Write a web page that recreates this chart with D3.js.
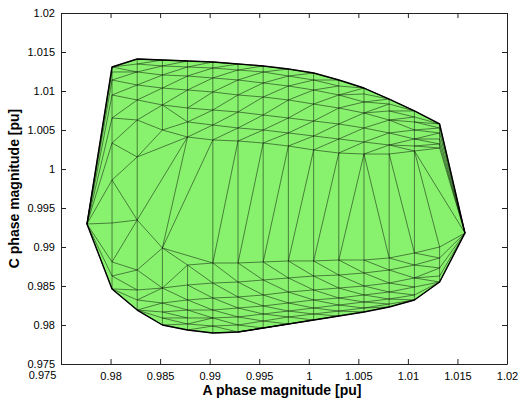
<!DOCTYPE html>
<html lang="en">
<head>
  <meta charset="UTF-8">
  <title>A vs C phase magnitude</title>
  <script src="https://d3js.org/d3.v7.min.js"></script>
  <style>
    body { margin: 0; background: #fff; }
    text { font-family: "Liberation Sans", Arial, sans-serif; }
  </style>
</head>
<body>
<svg></svg>
<script>
  // A phase magnitude of each mesh column [pu]
  const columnA = [0.97762, 0.98015, 0.98269, 0.98523, 0.98777, 0.99032, 0.99286, 0.99540,
                   0.99794, 1.00049, 1.00303, 1.00557, 1.00811, 1.01066, 1.01320, 1.01576]

  // C phase magnitudes of the mesh vertices in each column [pu]
  const columnC = [
    [0.99295],
    [1.01308, 1.01244, 1.01141, 1.00949, 1.00654, 1.00333, 0.99859, 0.99308, 0.98808, 0.98628, 0.98462],
    [1.01410, 1.01346, 1.01244, 1.01077, 1.00885, 1.00628, 1.00154, 0.99346, 0.98705, 0.98449, 0.98321, 0.98192],
    [1.01397, 1.01321, 1.01205, 1.01038, 1.00821, 1.00500, 0.98987, 0.98474, 0.98282, 0.98167, 0.98090, 0.98000],
    [1.01385, 1.01308, 1.01192, 1.01013, 1.00782, 1.00603, 1.00410, 0.98769, 0.98513, 0.98321, 0.98192, 0.98090, 0.98013, 0.97936],
    [1.01372, 1.01295, 1.01167, 1.00987, 1.00756, 1.00564, 1.00372, 0.98795, 0.98538, 0.98346, 0.98192, 0.98090, 0.97987, 0.97897],
    [1.01346, 1.01269, 1.01141, 1.00949, 1.00731, 1.00526, 1.00359, 0.98795, 0.98551, 0.98359, 0.98218, 0.98103, 0.98000, 0.97910],
    [1.01321, 1.01244, 1.01103, 1.00923, 1.00692, 1.00500, 1.00333, 0.98808, 0.98577, 0.98385, 0.98244, 0.98141, 0.98051, 0.97962],
    [1.01282, 1.01192, 1.01064, 1.00885, 1.00654, 1.00462, 1.00295, 0.98821, 0.98603, 0.98423, 0.98282, 0.98179, 0.98103, 0.98013],
    [1.01231, 1.01141, 1.01013, 1.00833, 1.00615, 1.00423, 1.00244, 0.98821, 0.98628, 0.98449, 0.98321, 0.98218, 0.98141, 0.98064],
    [1.01141, 1.01064, 1.00949, 1.00782, 1.00577, 1.00385, 1.00205, 0.98833, 0.98641, 0.98474, 0.98346, 0.98256, 0.98179, 0.98115],
    [1.01038, 1.00962, 1.00859, 1.00718, 1.00526, 1.00346, 1.00192, 0.98833, 0.98667, 0.98500, 0.98385, 0.98295, 0.98218, 0.98167],
    [1.00897, 1.00833, 1.00744, 1.00628, 1.00462, 1.00308, 1.00192, 0.98859, 0.98705, 0.98538, 0.98423, 0.98333, 0.98269, 0.98231],
    [1.00744, 1.00667, 1.00603, 1.00500, 1.00385, 1.00295, 1.00231, 0.98923, 0.98769, 0.98603, 0.98487, 0.98385, 0.98321],
    [1.00577, 1.00526, 1.00462, 1.00385, 1.00321, 1.00269, 0.99000, 0.98859, 0.98731, 0.98628, 0.98551],
    [0.99179]
  ]

  const xTicks = [0.975, 0.98, 0.985, 0.99, 0.995, 1, 1.005, 1.01, 1.015, 1.02]
  const yTicks = [0.975, 0.98, 0.985, 0.99, 0.995, 1, 1.005, 1.01, 1.015, 1.02]

  const margin = {top: 13, right: 15, bottom: 39, left: 61}
  const width = 522, height = 403

  const x = d3.scaleLinear()
      .domain([0.975, 1.02])
      .range([margin.left, width - margin.right])

  const y = d3.scaleLinear()
      .domain([0.975, 1.02])
      .range([height - margin.bottom, margin.top])

  const svg = d3.select('svg')
      .attr('width', width)
      .attr('height', height)
      .attr('viewBox', [0, 0, width, height])

  // flatten the columns into vertices and triangulate them
  const points = []
  columnC.forEach((cs, i) => cs.forEach(c => points.push([columnA[i], c])))

  const delaunay = d3.Delaunay.from(points, d => x(d[0]), d => y(d[1]))

  svg.append('path')
      .attr('d', delaunay.renderHull())
      .attr('fill', '#88f26e')

  svg.append('path')
      .attr('d', delaunay.render())
      .attr('fill', 'none')
      .attr('stroke', '#000')
      .attr('stroke-opacity', 0.6)
      .attr('stroke-width', 0.8)

  svg.append('path')
      .attr('d', delaunay.renderHull())
      .attr('fill', 'none')
      .attr('stroke', '#000')
      .attr('stroke-width', 1.4)
      .attr('stroke-linejoin', 'round')

  const fmt = d3.format('~g')

  const styleAxis = g => {
    g.select('.domain').attr('stroke', '#222')
    g.selectAll('.tick line').attr('stroke', '#222')
    g.selectAll('.tick text')
        .attr('fill', '#000')
        .style('font-size', '11px')
  }

  svg.append('g')
      .attr('transform', `translate(0,${height - margin.bottom})`)
      .call(d3.axisBottom(x).tickValues(xTicks).tickFormat(fmt)
          .tickSizeInner(-5).tickSizeOuter(0).tickPadding(8))
      .call(styleAxis)
      .call(g => g.selectAll('.tick text')
          .filter(d => d === 0.975)
          .attr('dx', -19)
          .attr('y', 7))

  svg.append('g')
      .attr('transform', `translate(0,${margin.top})`)
      .call(d3.axisTop(x).tickValues(xTicks).tickFormat('')
          .tickSizeInner(-5).tickSizeOuter(0))
      .call(styleAxis)

  svg.append('g')
      .attr('transform', `translate(${margin.left},0)`)
      .call(d3.axisLeft(y).tickValues(yTicks).tickFormat(fmt)
          .tickSizeInner(-5).tickSizeOuter(0).tickPadding(6))
      .call(styleAxis)

  svg.append('g')
      .attr('transform', `translate(${width - margin.right},0)`)
      .call(d3.axisRight(y).tickValues(yTicks).tickFormat('')
          .tickSizeInner(-5).tickSizeOuter(0))
      .call(styleAxis)

  svg.append('text')
      .attr('x', (margin.left + width - margin.right) / 2 - 2)
      .attr('y', 395)
      .attr('text-anchor', 'middle')
      .style('font-size', '14px')
      .style('font-weight', 'bold')
      .text('A phase magnitude [pu]')

  svg.append('text')
      .attr('transform', `translate(19,${(margin.top + height - margin.bottom) / 2}) rotate(-90)`)
      .attr('text-anchor', 'middle')
      .style('font-size', '14px')
      .style('font-weight', 'bold')
      .text('C phase magnitude [pu]')
</script>
</body>
</html>
